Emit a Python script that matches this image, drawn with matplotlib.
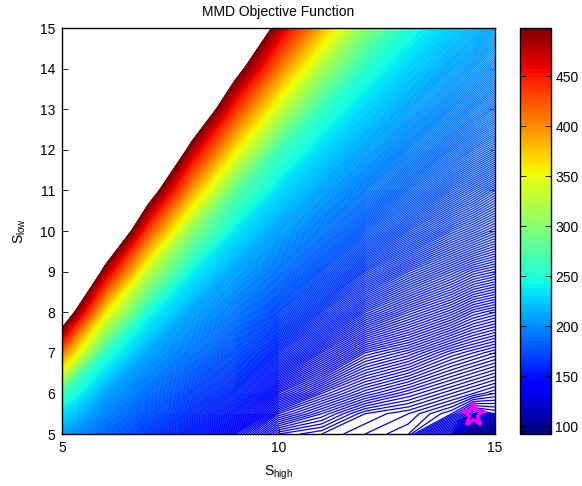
import matplotlib
matplotlib.use('Agg')
import matplotlib.pyplot as plt
import numpy as np

plt.rcParams['font.family'] = ['Liberation Sans', 'DejaVu Sans']
plt.rcParams['font.size'] = 10
plt.rcParams['mathtext.default'] = 'regular'

# grid of the objective
s_high = [5, 6, 7, 8, 9, 10, 11, 12, 13, 14, 14.5, 15]
s_low = [5, 5.5, 6, 7, 8, 9, 10, 11, 12, 13, 14, 15]
mmd = [
    [209, 184, 166, 152, 141, 133, 132, 131, 130, 122, 95, 99],
    [232, 196, 177, 162, 150, 138, 135, 132, 131, 129, 126, 127],
    [265, 209, 187, 171, 158, 144, 139, 136, 134, 132, 131, 130],
    [408, 254, 209, 190, 175, 157, 149, 143, 141, 138, 137, 136],
    [555, 359, 246, 209, 192, 172, 161, 153, 149, 146, 144, 143],
    [700, 478, 325, 240, 209, 190, 175, 164, 158, 154, 152, 151],
    [850, 603, 428, 300, 236, 209, 191, 177, 169, 163, 161, 159],
    [990, 725, 533, 390, 280, 232, 209, 192, 181, 173, 170, 167],
    [1130, 850, 638, 478, 359, 265, 230, 209, 194, 184, 180, 177],
    [1260, 967, 743, 573, 439, 335, 259, 228, 209, 196, 191, 187],
    [1380, 1083, 850, 660, 521, 408, 316, 254, 227, 209, 203, 198],
    [1500, 1200, 950, 756, 602, 478, 382, 300, 250, 225, 217, 209],
]
best_high = [14.5]
best_low = [5.5]

cbar_ticks = [100, 150, 200, 250, 300, 350, 400, 450]
vmin, vmax = 92, 498

fig = plt.figure(figsize=(5.82, 4.86), dpi=100)
ax = fig.add_axes([62 / 582, 52 / 486, 433 / 582, 406 / 486])
cax = fig.add_axes([520 / 582, 52 / 486, 31 / 582, 406 / 486])

cmap = plt.get_cmap('jet', 100)
norm = matplotlib.colors.Normalize(vmin=vmin, vmax=vmax)
levels = np.arange(92.5, 498, 0.5)

X, Y = np.meshgrid(s_high, s_low)
ax.contour(X, Y, np.array(mmd, dtype=float), levels=levels, cmap=cmap, norm=norm,
           linewidths=0.9)
ax.plot(best_high, best_low, marker='*', markersize=17, markerfacecolor='none',
        markeredgecolor='magenta', markeredgewidth=2.4, linestyle='none')

ax.set_xlim(5, 15)
ax.set_ylim(5, 15)
ax.set_xticks([5, 10, 15])
ax.set_yticks(range(5, 16))
ax.tick_params(direction='in', top=True, right=True, length=4, width=0.6,
               labelsize=10, pad=5)
for sp in ax.spines.values():
    sp.set_linewidth(1.0)
ax.set_title('MMD Objective Function', fontsize=10, pad=9)
ax.set_xlabel(r'$S_{high}$', fontsize=10, labelpad=6)
ax.set_ylabel(r'$S_{low}$', fontsize=10, labelpad=8)

sm = matplotlib.cm.ScalarMappable(norm=norm, cmap=cmap)
cb = fig.colorbar(sm, cax=cax)
cb.set_ticks(cbar_ticks)
cax.tick_params(direction='in', left=True, right=True, length=4, width=0.6,
                labelsize=10, pad=3)
cb.outline.set_linewidth(1.0)

fig.savefig('out.png', dpi=100)
